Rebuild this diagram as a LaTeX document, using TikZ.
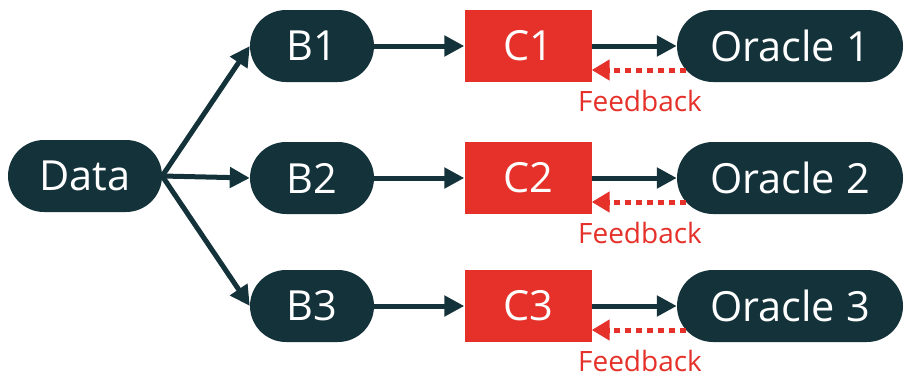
\documentclass[tikz,border=0pt]{standalone}
\usepackage{fontspec}
\setmainfont{Open Sans}
\usetikzlibrary{arrows.meta}
\definecolor{ink}{HTML}{14323A}
\definecolor{alert}{HTML}{E5312A}
\tikzset{
  pill/.style={draw=none, fill=ink, text=white, rounded corners=36pt,
    minimum height=72pt, inner sep=0pt, font=\fontsize{41.5}{46}\selectfont},
  cbox/.style={fill=alert, text=white, minimum width=127pt, minimum height=72pt,
    inner sep=0pt, font=\fontsize{41.5}{46}\selectfont},
  flow/.style={draw=ink, line width=5pt, -{Triangle[length=20pt,width=20pt]}},
  fb/.style={draw=alert, line width=5pt, dash pattern=on 6pt off 5pt,
    -{Triangle[length=18pt,width=20pt]}},
  fblabel/.style={text=alert, inner sep=0pt, font=\fontsize{28}{31}\selectfont}
}
\begin{document}
\begin{tikzpicture}[x=1pt,y=-1pt]
\useasboundingbox (0,0) rectangle (904,375);
\node[pill, minimum width=154pt] (data) at (85,176) {Data};
\foreach \i/\y in {1/46,2/178,3/306}{
  \node[pill, minimum width=124pt] (b\i) at (312,\y) {B\i};
  \node[cbox] (c\i) at (528,\y) {C\i};
  \node[pill, minimum width=226pt] (o\i) at (790,\y) {Oracle \i};
  \draw[flow] (data.east) -- (b\i.west);
  \draw[flow] (b\i.east) -- (c\i.west);
  \draw[flow] (c\i.east) -- (o\i.west);
  \draw[fb] ([shift={(9pt,-24pt)}]o\i.west) -- ([yshift=-24pt]c\i.east);
  \node[fblabel] (f\i) at (640,\y+55) {Feedback};
}
\end{tikzpicture}
\end{document}
